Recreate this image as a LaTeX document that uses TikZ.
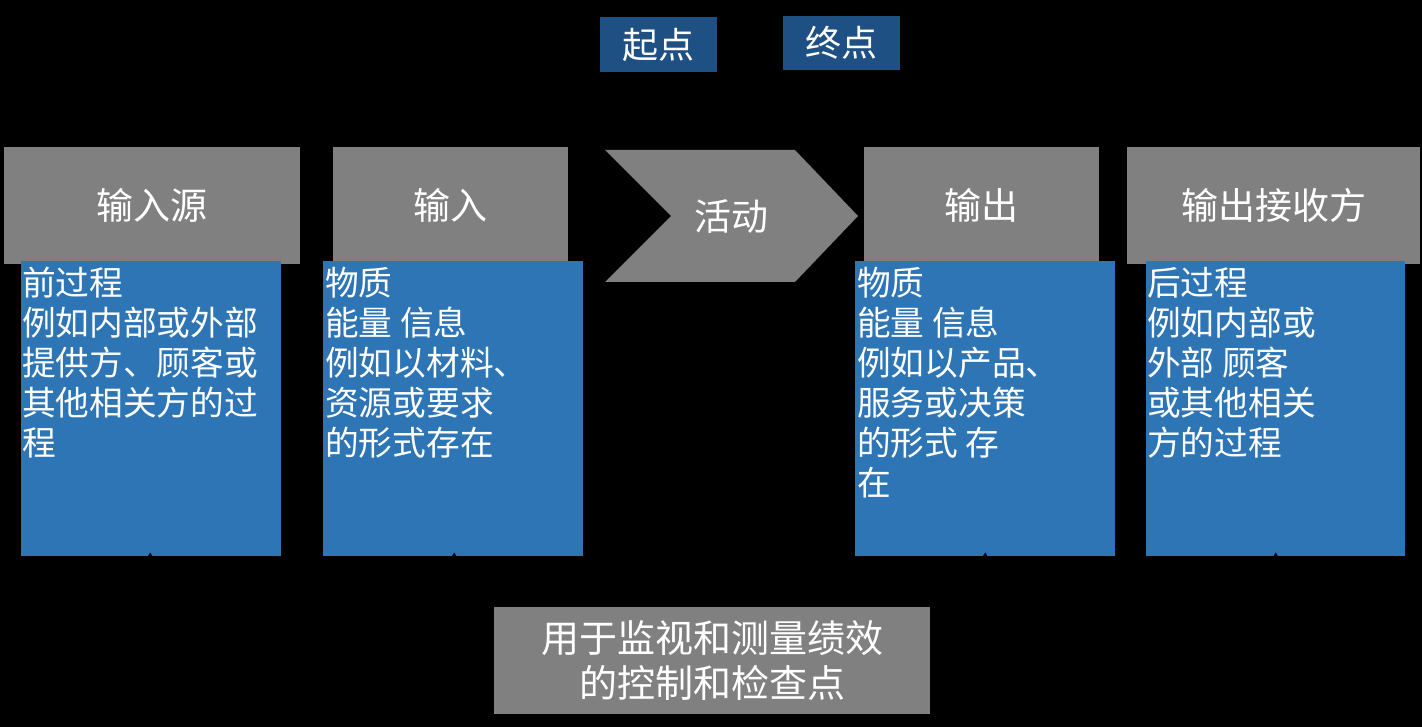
\documentclass[tikz,border=0pt]{standalone}
\usepackage{fontspec}
\newfontfamily\cjk{Noto Sans CJK SC}
\usetikzlibrary{arrows.meta}
\definecolor{gbox}{HTML}{808080}
\definecolor{bbox}{HTML}{2E75B6}
\definecolor{dbox}{HTML}{1F5083}
\begin{document}
\begin{tikzpicture}[x=1pt,y=-1pt,
  graybox/.style={fill=gbox, draw=none, inner sep=0pt, text=white, font=\cjk\fontsize{37}{44}\selectfont},
  bluebox/.style={fill=bbox, draw=none, inner sep=0pt, anchor=north west},
  darkbox/.style={fill=dbox, draw=none, inner sep=0pt, text=white, font=\cjk\fontsize{36}{42}\selectfont},
  txt/.style={anchor=north west, inner sep=0pt, text=white, align=left, font=\cjk\fontsize{33.7}{40}\selectfont},
  conn/.style={draw=black, line width=1pt, shorten >=-4pt, -{Triangle[width=7pt,length=6pt]}}]
\fill[black] (0,0) rectangle (1422,727);
\useasboundingbox (0,0) rectangle (1422,727);
% top labels
\node[darkbox, minimum width=117pt, minimum height=55pt] (start) at (658.5,44.5) {起点};
\node[darkbox, minimum width=117pt, minimum height=54pt] (end) at (841.5,43) {终点};
% gray headers
\node[graybox, minimum width=296pt, minimum height=117pt] (src) at (152,205.5) {输入源};
\node[graybox, minimum width=235pt, minimum height=117pt] (in) at (450.5,205.5) {输入};
\node[graybox, minimum width=235pt, minimum height=117pt] (out) at (981.5,205.5) {输出};
\node[graybox, minimum width=293pt, minimum height=117pt] (rcv) at (1273.5,205.5) {输出接收方};
% chevron
\fill[gbox] (605,150) -- (795,150) -- (858,216) -- (795,282) -- (605,282) -- (671,216) -- cycle;
\node[text=white, inner sep=0pt, font=\cjk\fontsize{37}{44}\selectfont] (act) at (731,216) {活动};
% blue boxes
\node[bluebox, minimum width=260pt, minimum height=295pt] (b1) at (21,261) {};
\node[bluebox, minimum width=260pt, minimum height=295pt] (b2) at (323,261) {};
\node[bluebox, minimum width=260pt, minimum height=295pt] (b3) at (855,261) {};
\node[bluebox, minimum width=259pt, minimum height=295pt] (b4) at (1146,261) {};
\node[txt] (t1) at (22,267) {前过程\\例如内部或外部\\提供方、顾客或\\其他相关方的过\\程};
\node[txt] (t2) at (325,267) {物质\\能量 信息\\例如以材料、\\资源或要求\\的形式存在};
\node[txt] (t3) at (857,267) {物质\\能量 信息\\例如以产品、\\服务或决策\\的形式 存\\在};
\node[txt] (t4) at (1147,267) {后过程\\例如内部或\\外部 顾客\\或其他相关\\方的过程};
% monitoring box
\node[graybox, minimum width=436pt, minimum height=107pt, align=center, font=\cjk\fontsize{38}{45}\selectfont] (mon) at (712,660.5) {用于监视和测量绩效\\的控制和检查点};
% connectors (black)
\coordinate (j) at (712,585);
\draw[conn] (mon.north) -- (j) -| ([xshift=-1pt]b1.south);
\draw[conn] (mon.north) -- (j) -| ([xshift=1pt]b2.south);
\draw[conn] (mon.north) -- (j) -| ([xshift=0pt]b3.south);
\draw[conn] (mon.north) -- (j) -| ([xshift=0pt]b4.south);
\end{tikzpicture}
\end{document}
